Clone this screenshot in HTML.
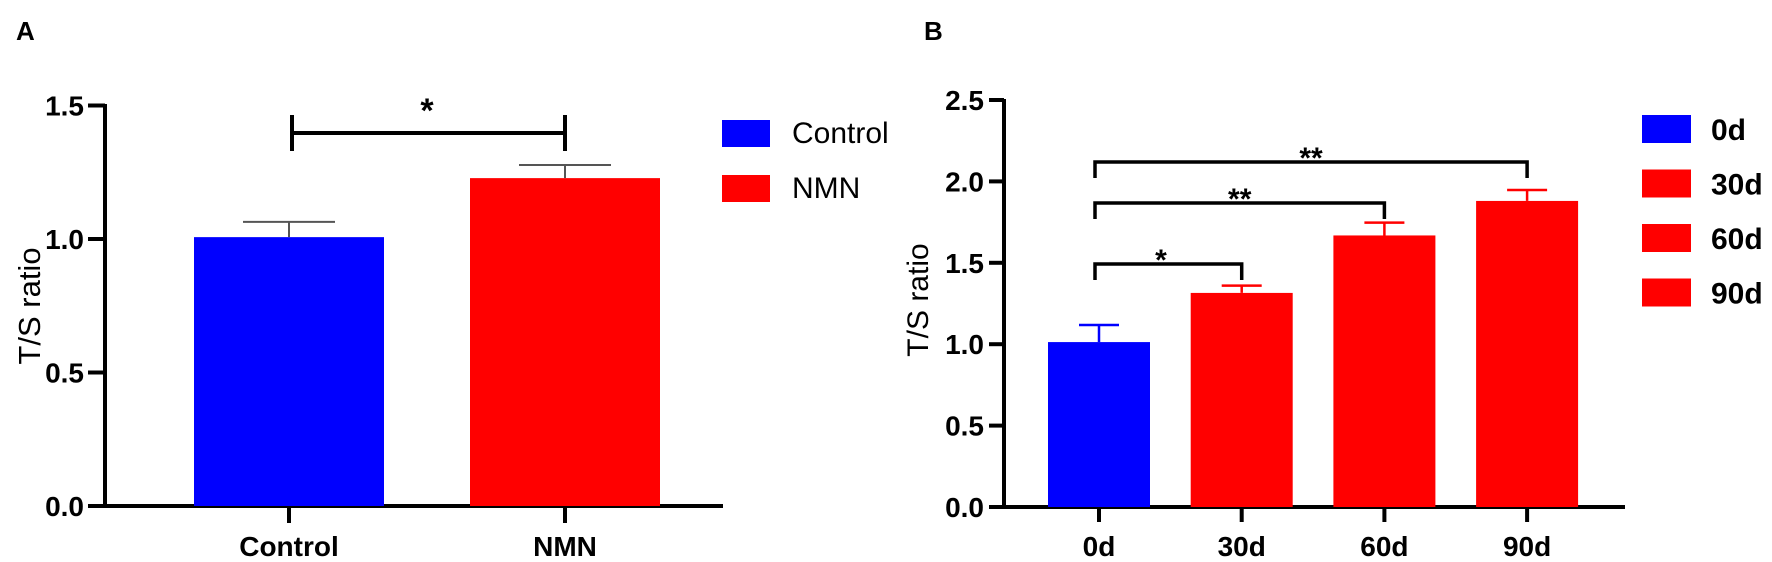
<!DOCTYPE html>
<html><head><meta charset="utf-8"><style>
html,body{margin:0;padding:0;background:#fff;}
svg{display:block;}
text{font-family:"Liberation Sans",sans-serif;fill:#000;}
.nar{font-family:"Liberation Sans Narrow","Liberation Sans",sans-serif;}
</style></head><body>
<svg id="chart" width="1772" height="562" viewBox="0 0 1772 562" xmlns="http://www.w3.org/2000/svg">
<text x="16" y="40" font-size="26" font-weight="bold">A</text>
<text x="924" y="40" font-size="26" font-weight="bold">B</text>
<g id="pa"></g>
<g id="pb"></g>
</svg>
<script>
// Panel A data
const catsA = ["Control", "NMN"];
const valsA = [1.007, 1.228];
const errA = [0.057, 0.049];
const colorsA = ["#0000ff", "#ff0000"];
const ticksA = ["0.0", "0.5", "1.0", "1.5"];
const tickValsA = [0, 0.5, 1.0, 1.5];
// Panel B data
const catsB = ["0d", "30d", "60d", "90d"];
const valsB = [1.013, 1.315, 1.668, 1.88];
const errB = [0.105, 0.045, 0.079, 0.067];
const colorsB = ["#0000ff", "#ff0000", "#ff0000", "#ff0000"];
const ticksB = ["0.0", "0.5", "1.0", "1.5", "2.0", "2.5"];
const tickValsB = [0, 0.5, 1.0, 1.5, 2.0, 2.5];
const sigB = [[0, 1, "*"], [0, 2, "**"], [0, 3, "**"]];

const NS = "http://www.w3.org/2000/svg";
function mk(parent, tag, attrs, txt) {
  const e = document.createElementNS(NS, tag);
  for (const k in attrs) e.setAttribute(k, attrs[k]);
  if (txt !== undefined) e.textContent = txt;
  parent.appendChild(e);
  return e;
}

// ---------- Panel A ----------
const pa = document.getElementById("pa");
const yA = v => 506 - v * 267;
const xA = i => 289 + i * 276;
const bwA = 190;
let e;
e = mk(pa, "line", {x1: 105, y1: 104, x2: 105, y2: 508, stroke: "#000", "stroke-width": 4});


e = mk(pa, "line", {x1: 88, y1: 506, x2: 723, y2: 506, stroke: "#000", "stroke-width": 4});


tickValsA.forEach((v, i) => {
  e = mk(pa, "line", {x1: 88, y1: yA(v), x2: 105, y2: yA(v), stroke: "#000", "stroke-width": 4});
  
  
  e = mk(pa, "text", {x: 84, y: yA(v) + 10, "font-size": 28, "font-weight": "bold", "text-anchor": "end"}, ticksA[i]);
  
  
});
catsA.forEach((c, i) => {
  const cx = xA(i);
  e = mk(pa, "rect", {x: cx - bwA / 2, y: yA(valsA[i]), width: bwA, height: yA(0) - yA(valsA[i]), fill: colorsA[i]});
  
  
  const top = yA(valsA[i] + errA[i]);
  e = mk(pa, "path", {d: `M${cx} ${yA(valsA[i])}V${top}M${cx - 46} ${top}H${cx + 46}`, stroke: "#555", "stroke-width": 2, fill: "none"});
  
  
  e = mk(pa, "line", {x1: cx, y1: 506, x2: cx, y2: 523, stroke: "#000", "stroke-width": 4});
  
  
  e = mk(pa, "text", {x: cx, y: 556, "font-size": 28, "font-weight": "bold", "text-anchor": "middle"}, c);
  
  
});
e = mk(pa, "path", {d: `M${xA(0) + 3} 115V151M${xA(0) + 3} 133H${xA(1)}M${xA(1)} 115V151`, stroke: "#000", "stroke-width": 4, fill: "none"});


e = mk(pa, "text", {x: (xA(0) + xA(1)) / 2, y: 122, "font-size": 34, "font-weight": "bold", "text-anchor": "middle"}, "*");


e = mk(pa, "text", {x: 0, y: 0, "font-size": 31, "text-anchor": "middle", transform: "translate(40,306) rotate(-90)"}, "T/S ratio");


catsA.forEach((c, i) => {
  const y0 = 120 + i * 55;
  e = mk(pa, "rect", {x: 722, y: y0, width: 48, height: 27, fill: colorsA[i]});
  
  
  e = mk(pa, "text", {x: 792, y: y0 + 23, "font-size": 30}, c);
  
  
});

// ---------- Panel B ----------
const pb = document.getElementById("pb");
const yB = v => 507 - v * 162.8;
const xB = i => 1099 + i * 142.7;
const bwB = 102;
e = mk(pb, "line", {x1: 1004, y1: 99, x2: 1004, y2: 509, stroke: "#000", "stroke-width": 4});


e = mk(pb, "line", {x1: 989, y1: 507, x2: 1625, y2: 507, stroke: "#000", "stroke-width": 4});


tickValsB.forEach((v, i) => {
  e = mk(pb, "line", {x1: 989, y1: yB(v), x2: 1004, y2: yB(v), stroke: "#000", "stroke-width": 4});
  
  
  e = mk(pb, "text", {x: 984, y: yB(v) + 10, "font-size": 28, "font-weight": "bold", "text-anchor": "end", class: "nar"}, ticksB[i]);
  
  
});
catsB.forEach((c, i) => {
  const cx = xB(i);
  e = mk(pb, "rect", {x: cx - bwB / 2, y: yB(valsB[i]), width: bwB, height: yB(0) - yB(valsB[i]), fill: colorsB[i]});
  
  
  const top = yB(valsB[i] + errB[i]);
  e = mk(pb, "path", {d: `M${cx} ${yB(valsB[i])}V${top}M${cx - 20} ${top}H${cx + 20}`, stroke: colorsB[i], "stroke-width": 2.5, fill: "none"});
  
  
  e = mk(pb, "line", {x1: cx, y1: 507, x2: cx, y2: 522, stroke: "#000", "stroke-width": 4});
  
  
  e = mk(pb, "text", {x: cx, y: 556, "font-size": 28, "font-weight": "bold", "text-anchor": "middle", class: "nar"}, c);
  
  
});
sigB.forEach((s, k) => {
  const xa = xB(s[0]) - 4, xb = xB(s[1]);
  const yh = [264, 203, 162][k];
  e = mk(pb, "path", {d: `M${xa} ${yh + 16}V${yh}H${xb}V${yh + 16}`, stroke: "#000", "stroke-width": 3.5, fill: "none"});
  
  
  e = mk(pb, "text", {x: xa + (xb - xa) * (k === 0 ? 0.45 : 0.5), y: yh + 6, "font-size": 30, "font-weight": "bold", "text-anchor": "middle"}, s[2]);
  
  
});
e = mk(pb, "text", {x: 0, y: 0, "font-size": 30, "text-anchor": "middle", transform: "translate(928,300) rotate(-90)"}, "T/S ratio");


catsB.forEach((c, i) => {
  const y0 = 115 + i * 54.5;
  e = mk(pb, "rect", {x: 1642, y: y0, width: 49, height: 28, fill: colorsB[i]});
  
  
  e = mk(pb, "text", {x: 1711, y: y0 + 25, "font-size": 30, "font-weight": "bold", class: "nar"}, c);
  
  
});
</script>
</body></html>
